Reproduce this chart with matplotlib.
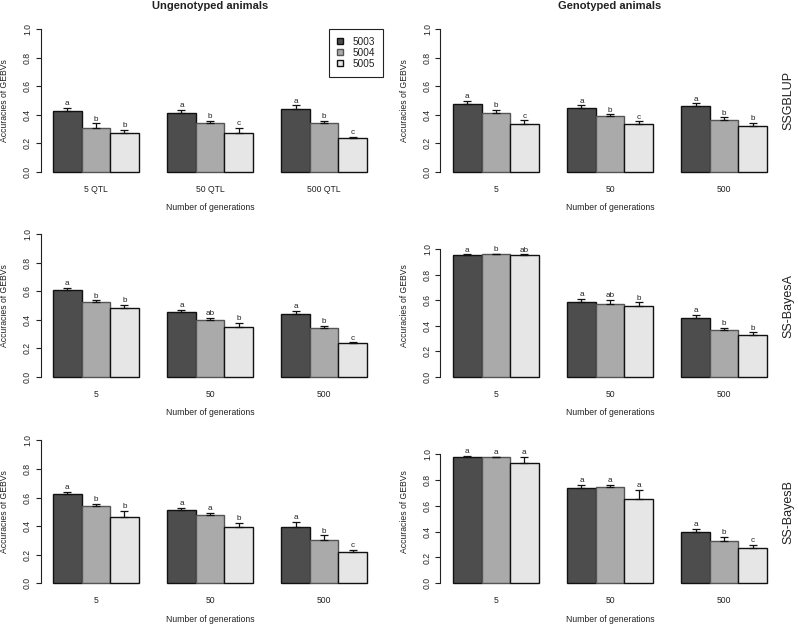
import numpy as np
import matplotlib
matplotlib.use("Agg")
import matplotlib.pyplot as plt

plt.rcParams['font.family'] = ['Liberation Sans', 'DejaVu Sans']

# ---------------- data ----------------
lines = ['5003', '5004', '5005']
groups_ung = ['5 QTL', '50 QTL', '500 QTL']
groups_gen = ['5', '50', '500']
methods = ['SSGBLUP', 'SS-BayesA', 'SS-BayesB']

# accuracies per group (rows) and line (cols)
ssgblup_ung = [[0.426, 0.311, 0.276], [0.415, 0.342, 0.276], [0.443, 0.340, 0.239]]
ssgblup_ung_se = [[0.024, 0.029, 0.017], [0.018, 0.016, 0.031], [0.023, 0.018, 0.005]]
ssgblup_ung_let = [['a', 'b', 'b'], ['a', 'b', 'c'], ['a', 'b', 'c']]

ssgblup_gen = [[0.475, 0.410, 0.337], [0.445, 0.389, 0.337], [0.461, 0.363, 0.321]]
ssgblup_gen_se = [[0.024, 0.023, 0.024], [0.021, 0.014, 0.017], [0.019, 0.019, 0.021]]
ssgblup_gen_let = [['a', 'b', 'c'], ['a', 'b', 'c'], ['a', 'b', 'b']]

bayesa_ung = [[0.610, 0.526, 0.481], [0.453, 0.397, 0.347], [0.441, 0.343, 0.237]]
bayesa_ung_se = [[0.014, 0.009, 0.021], [0.016, 0.016, 0.029], [0.019, 0.016, 0.005]]
bayesa_ung_let = [['a', 'b', 'b'], ['a', 'ab', 'b'], ['a', 'b', 'c']]

bayesa_gen = [[0.953, 0.958, 0.953], [0.582, 0.574, 0.551], [0.462, 0.369, 0.325]]
bayesa_gen_se = [[0.005, 0.006, 0.005], [0.028, 0.029, 0.031], [0.021, 0.015, 0.023]]
bayesa_gen_let = [['a', 'b', 'ab'], ['a', 'ab', 'b'], ['a', 'b', 'b']]

bayesb_ung = [[0.628, 0.543, 0.466], [0.511, 0.478, 0.393], [0.391, 0.304, 0.218]]
bayesb_ung_se = [[0.009, 0.012, 0.040], [0.016, 0.016, 0.029], [0.038, 0.031, 0.016]]
bayesb_ung_let = [['a', 'b', 'b'], ['a', 'a', 'b'], ['a', 'b', 'c']]

bayesb_gen = [[0.979, 0.979, 0.933], [0.742, 0.749, 0.656], [0.398, 0.331, 0.276]]
bayesb_gen_se = [[0.008, 0.002, 0.049], [0.018, 0.016, 0.070], [0.023, 0.026, 0.019]]
bayesb_gen_let = [['a', 'a', 'a'], ['a', 'a', 'a'], ['a', 'b', 'c']]

# ---------------- style ----------------
cores = ['#4d4d4d', '#aaaaaa', '#e6e6e6']
bordas = ['#111111', '#555555', '#111111']
txt = '#222222'
fs = 6.2

W, H = 798, 625
fig = plt.figure(figsize=(W / 100, H / 100), dpi=100)

col_x = [40.5, 440.5]
row_top = [23.3, 228.3, 434.6]
pw, ph = 339, 154.4

paineis = [
    [(ssgblup_ung, ssgblup_ung_se, ssgblup_ung_let, groups_ung, 1.0),
     (ssgblup_gen, ssgblup_gen_se, ssgblup_gen_let, groups_gen, 1.0)],
    [(bayesa_ung, bayesa_ung_se, bayesa_ung_let, groups_gen, 1.0),
     (bayesa_gen, bayesa_gen_se, bayesa_gen_let, groups_gen, 1.117)],
    [(bayesb_ung, bayesb_ung_se, bayesb_ung_let, groups_gen, 1.0),
     (bayesb_gen, bayesb_gen_se, bayesb_gen_let, groups_gen, 1.108)],
]

for r in range(3):
    for c in range(2):
        vals, se, let, grp, top = paineis[r][c]
        vals = np.array(vals)
        se = np.array(se)
        ax = fig.add_axes([col_x[c] / W, 1 - (row_top[r] + ph) / H, pw / W, ph / H])

        for s in range(3):
            x = np.arange(3) * 4 + 1 + s
            ax.bar(x, vals[:, s], width=1, align='edge', color=cores[s],
                   edgecolor=bordas[s], linewidth=1.0, label=lines[s], zorder=2)
            ax.errorbar(x + 0.5, vals[:, s], yerr=[np.zeros(3), se[:, s]], fmt='none',
                        ecolor='#111111', elinewidth=0.9, capsize=2.6, capthick=0.9, zorder=3)
            for g in range(3):
                ax.annotate(let[g][s], (x[g] + 0.5, vals[g, s] + se[g, s]),
                            xytext=(0, 0.6), textcoords='offset points',
                            ha='center', va='bottom', fontsize=fs - 0.3, color=txt)

        ax.set_xlim(0.56, 12.44)
        ax.set_ylim(-0.04 * top, 1.04 * top)
        for sp in ['top', 'right', 'bottom']:
            ax.spines[sp].set_visible(False)
        ax.spines['left'].set_bounds(0, 1)
        ax.spines['left'].set_linewidth(0.8)
        ax.spines['left'].set_color('#222222')
        ax.set_yticks(np.arange(0, 1.01, 0.2))
        ax.set_yticklabels(['%.1f' % v for v in np.arange(0, 1.01, 0.2)],
                           rotation=90, va='center')
        ax.tick_params(axis='y', length=3.6, width=0.8, pad=2.5, labelsize=fs,
                       color='#222222', labelcolor=txt)
        ax.set_xticks([2.5, 6.5, 10.5])
        ax.set_xticklabels(grp)
        ax.tick_params(axis='x', length=0, pad=5, labelsize=fs, labelcolor=txt)
        ax.set_facecolor('none')

        ax.text(-35.5 / pw, 0.5, 'Accuracies of GEBVs', transform=ax.transAxes,
                rotation=90, ha='center', va='center', fontsize=fs, color=txt)
        ax.text(0.5, -30 / ph, 'Number of generations', transform=ax.transAxes,
                ha='center', va='center', fontsize=fs, color=txt)

        if r == 0:
            titulo = 'Ungenotyped animals' if c == 0 else 'Genotyped animals'
            ax.text(0.5, 1 + 17.3 / ph, titulo, transform=ax.transAxes,
                    ha='center', va='center', fontsize=8, fontweight='bold', color=txt)
        if r == 0 and c == 0:
            leg = ax.legend(loc='upper right', bbox_to_anchor=(383 / W, 1 - 29 / H),
                            bbox_transform=fig.transFigure, borderaxespad=0,
                            fontsize=7.2, handlelength=0.55, handleheight=0.55,
                            handletextpad=1.0, labelspacing=0.1, borderpad=0.8,
                            fancybox=False, framealpha=1, edgecolor='#222222')
            leg.get_frame().set_linewidth(0.8)
            for t in leg.get_texts():
                t.set_color(txt)
        if c == 1:
            fig.text(788 / W, 1 - (row_top[r] + ph / 2) / H, methods[r], rotation=90,
                     ha='center', va='center', fontsize=9, color=txt)

fig.savefig('out.png', dpi=100)
